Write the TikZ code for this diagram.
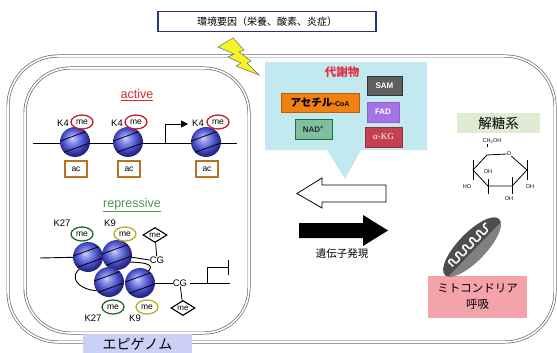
\documentclass[tikz,border=0pt]{standalone}
\usepackage{fontspec}
\setmainfont{Liberation Sans}
\newfontfamily\jp{Noto Sans CJK JP}
\newfontfamily\grk{Liberation Serif}
\usetikzlibrary{shapes.geometric,arrows.meta}

\definecolor{navy}{RGB}{40,52,130}
\definecolor{bolt}{RGB}{244,244,40}
\definecolor{cyanbg}{RGB}{195,233,240}
\definecolor{metred}{RGB}{226,48,64}
\definecolor{samgray}{RGB}{95,95,95}
\definecolor{acorange}{RGB}{240,128,16}
\definecolor{fadpurple}{RGB}{165,115,228}
\definecolor{nadgreen}{RGB}{128,190,160}
\definecolor{nadedge}{RGB}{30,110,60}
\definecolor{kgred}{RGB}{196,64,82}
\definecolor{glyco}{RGB}{224,235,211}
\definecolor{mitopink}{RGB}{245,163,170}
\definecolor{lavender}{RGB}{203,208,247}
\definecolor{mered}{RGB}{196,30,42}
\definecolor{megreen}{RGB}{30,105,45}
\definecolor{meolive}{RGB}{185,178,30}
\definecolor{acedge}{RGB}{184,116,37}
\definecolor{activered}{RGB}{214,44,44}
\definecolor{represgreen}{RGB}{80,150,80}
\definecolor{walls}{RGB}{105,105,105}
\definecolor{nucA}{RGB}{210,210,248}
\definecolor{nucB}{RGB}{145,150,236}
\definecolor{nucC}{RGB}{82,88,208}
\definecolor{nucD}{RGB}{38,40,135}

% histone octamer: light centre, deep blue rim
\pgfdeclareradialshading{nucball}{\pgfpoint{-5bp}{7bp}}{%
  color(0bp)=(nucA); color(7bp)=(nucB); color(16bp)=(nucC); color(25bp)=(nucD); color(50bp)=(nucD)}

\tikzset{
  wall/.style={draw=walls, double=white, double distance=1.6pt, line width=0.7pt},
  nuc/.style={circle, minimum size=30pt, inner sep=0pt, shading=nucball,
    path picture={
      \draw[line width=0.8pt] ([shift={(-20.9pt,-1.2pt)}]path picture bounding box.center) -- ++(20:42pt);
      \draw[line width=0.8pt] ([shift={(-16.8pt,-12.5pt)}]path picture bounding box.center) -- ++(20:42pt);
    }},
  mebox/.style={ellipse, draw, line width=1.3pt, fill=white, minimum width=22pt, minimum height=14pt,
    inner sep=0pt, font=\fontsize{8.5}{8.5}\selectfont},
  media/.style={diamond, draw, line width=1.1pt, fill=white, aspect=1.6, minimum width=24pt,
    minimum height=15pt, inner sep=0pt, font=\fontsize{8}{8}\selectfont},
  klabel/.style={inner sep=0pt, font=\fontsize{9.5}{9.5}\selectfont},
  acbox/.style={draw=acedge, line width=1.3pt, fill=white, minimum width=22pt, minimum height=16pt,
    inner sep=0pt, font=\fontsize{8.5}{8.5}\selectfont},
  metab/.style={line width=1pt, inner sep=0pt, font=\fontsize{8}{8}\bfseries\selectfont},
  glu/.style={inner sep=0pt, font=\fontsize{5.5}{5.5}\selectfont},
  dna/.style={line width=0.9pt},
}

\begin{document}
\begin{tikzpicture}[x=1pt,y=-1pt]
\useasboundingbox (0,0) rectangle (557,353);
\fill[white] (0,0) rectangle (557,353);

% cell and nucleus
\draw[wall, rounded corners=50pt] (8,56) rectangle (555,342);
\draw[wall, rounded corners=45pt] (25,68) rectangle (249,333);
\node[fill=lavender, minimum width=109pt, minimum height=21pt, inner sep=0pt,
      font=\jp\fontsize{14}{14}\selectfont] (epi) at (137.5,344) {エピゲノム};

% environmental factors
\node[draw=navy, line width=1.3pt, fill=white, minimum width=218pt, minimum height=20pt, inner sep=0pt,
      font=\jp\fontsize{10}{10}\selectfont] (env) at (267,21.5) {環境要因（栄養、酸素、炎症）};

% metabolite callout
\fill[cyanbg] (265,62) -- (427,62) -- (427,150) -- (361,150) -- (345,179) -- (327,150) -- (265,150) -- cycle;
\node[text=metred, inner sep=0pt, font=\jp\fontsize{11.5}{11.5}\bfseries\selectfont] (met) at (342,72) {代謝物};
\node[metab, draw=black!80, fill=samgray, text=white, minimum width=35pt, minimum height=18pt] (sam) at (384.5,86) {SAM};
\node[metab, draw=acorange!75!black, fill=acorange, minimum width=78pt, minimum height=19pt] (acoa) at (320,102.5)
  {{\jp\fontsize{10.5}{10.5}\selectfont アセチル}-{\fontsize{7}{7}\bfseries\selectfont CoA}};
\node[metab, draw=fadpurple!85!black, fill=fadpurple, text=white, minimum width=32pt, minimum height=20pt] (fad) at (383,112) {FAD};
\node[metab, draw=nadedge, fill=nadgreen, text=black!85, minimum width=37pt, minimum height=20pt] (nad) at (313.5,129) {NAD\textsuperscript{+}};
\node[metab, draw=kgred!75!black, fill=kgred, text=white, minimum width=37pt, minimum height=20pt,
      font=\grk\fontsize{9}{9}\selectfont] (akg) at (383.5,137) {α-KG};

% lightning
\filldraw[fill=bolt, draw=black!60, line width=0.5pt]
  (218,47) -- (233,38) -- (244,50) -- (239,52) -- (251,61) -- (247,63) -- (259,75)
  -- (236,66) -- (241,63) -- (228,57) -- (234,54) -- cycle;

% gene expression arrows
\draw[line width=0.8pt, fill=white] (386,185) -- (322,185) -- (322,178) -- (297,193.5) -- (322,208) -- (322,202) -- (386,202) -- cycle;
\fill[black] (299,223) -- (363,223) -- (363,215) -- (388,230.5) -- (363,246) -- (363,238) -- (299,238) -- cycle;
\node[inner sep=0pt, font=\jp\fontsize{10.5}{10.5}\selectfont] (gexp) at (342,254) {遺伝子発現};

% glycolysis
\node[fill=glyco, minimum width=83pt, minimum height=20pt, inner sep=0pt,
      font=\jp\fontsize{13.5}{13.5}\selectfont] (glyc) at (498.5,123) {解糖系};
\coordinate (c5) at (487,155);
\coordinate (c1) at (527,170);
\coordinate (c2) at (512,186);
\coordinate (c3) at (488,186);
\coordinate (c4) at (473,170);
\node[glu] (ox) at (509,154) {O};
\node[glu] (ch2oh) at (492,141) {CH\textsubscript{2}OH};
\node[glu] (oh4) at (488,172) {OH};
\node[glu] (ho3) at (467,187) {HO};
\node[glu] (oh2) at (509,199) {OH};
\node[glu] (oh1) at (530,187) {OH};
\draw[line width=0.8pt] (c5) -- (ox.west) (ox.south east) -- (c1) -- (c2) -- (c3) -- (c4) -- (c5);
\draw[line width=0.8pt] (c5 |- ch2oh.south) -- ([yshift=8pt]c5)
  ([yshift=-10pt]c4) -- ([yshift=10pt]c4)
  ([yshift=-10pt]c1) -- ([yshift=10pt]c1)
  ([yshift=-8pt]c3) -- ([yshift=7pt]c3)
  ([yshift=-8pt]c2) -- ([yshift=9pt]c2);

% mitochondrial respiration
\node[fill=mitopink, minimum width=99pt, minimum height=42pt, inner sep=0pt, align=center,
      font=\jp\fontsize{11.5}{16}\selectfont] (mito) at (477.5,297) {ミトコンドリア\\呼吸};
\begin{scope}[shift={(472,247)}, rotate=46, opacity=0.93]
  % local y < 0 lies towards the upper left side of the organelle
  \fill[black!75] (0,0) ellipse [x radius=39, y radius=14];
  \begin{scope}
    \clip (0,0) ellipse [x radius=39, y radius=14];
    \fill[black!48] (-45,3.5) rectangle (45,20);
  \end{scope}
  \draw[white, line width=1.7pt, rounded corners=1.2pt]
    (-27,0) \foreach \k in {0,...,4} { -- ++(0,-7) -- ++(4,0) -- ++(0,7) -- ++(6,0)} -- ++(0,-7) -- ++(4,0);
\end{scope}

% ---- active chromatin ----
\node[text=activered, inner sep=0pt, font=\fontsize{12.5}{12.5}\selectfont] (act) at (137,95) {\underline{active}};
\coordinate (aL) at (33,143);
\coordinate (aR) at (237,143);
\draw[dna] (aL) -- (aR);
\coordinate (tss) at (165,143);
\coordinate (tssend) at (188,124);
\draw[dna, -{Triangle[length=7pt,width=7pt]}] (tss) |- (tssend);
\foreach \i/\x in {1/75,2/128,3/206} {
  \node[nuc] (an\i) at (\x,142) {};
  \node[acbox] (ac\i) at (\x+1,169) {ac};
}
\node[klabel] (k4a) at (63,123) {K4};
\node[mebox, draw=mered] (mea) at (82,122) {me};
\node[klabel] (k4b) at (117,123) {K4};
\node[mebox, draw=mered] (meb) at (136,122) {me};
\node[klabel] (k4c) at (198,123) {K4};
\node[mebox, draw=mered] (mec) at (218,122) {me};

% ---- repressive chromatin ----
\node[text=represgreen, inner sep=0pt, font=\fontsize{12.5}{12.5}\selectfont] (rep) at (132,205) {\underline{repressive}};
\coordinate (rL) at (40,258);
\node[inner sep=0pt, font=\fontsize{9.5}{9.5}\selectfont] (cg1) at (157,260) {CG};
\node[inner sep=0pt, font=\fontsize{9.5}{9.5}\selectfont] (cg2) at (180,283) {CG};
\coordinate (rR) at (230,283);
\coordinate (pb) at (207,283);
\coordinate (pt) at (228,267);
\node[media] (dia1) at (155,235) {me};
\node[media] (dia2) at (183,308) {me};
\draw[line width=0.8pt] (dia1) -- (cg1);
\draw[line width=0.8pt] (dia2) -- (cg2);
% linker DNA behind the nucleosomes
\draw[dna] (rL) -- (88,257);
\draw[dna] (89,266) .. controls (68,268) and (70,290) .. (100,291);
\draw[dna] (125,262) .. controls (150,262) and (160,266) .. (140,276);
\draw[dna] (117,255) -- (cg1.west);
\draw[dna] (140,283) -- (cg2.west);
\draw[dna] ([xshift=3pt]cg2.east) -- (rR);
\draw[dna] (pb) |- (pt);
\draw[dna] ([yshift=-8pt]pt) -- ([yshift=7pt]pt);
\node[nuc] (rn1) at (88,257) {};
\node[nuc] (rn2) at (117,255) {};
\node[nuc] (rn3) at (109,282) {};
\node[nuc] (rn4) at (140,283) {};
\node[klabel] (k27a) at (62,223) {K27};
\node[mebox, draw=megreen] (me27a) at (82,234) {me};
\node[klabel] (k9a) at (110,223) {K9};
\node[mebox, draw=meolive] (me9a) at (125,234) {me};
\node[mebox, draw=megreen] (me27b) at (113,307) {me};
\node[klabel] (k27b) at (93,318) {K27};
\node[mebox, draw=meolive] (me9b) at (147,307) {me};
\node[klabel] (k9b) at (135,318) {K9};
\end{tikzpicture}
\end{document}
